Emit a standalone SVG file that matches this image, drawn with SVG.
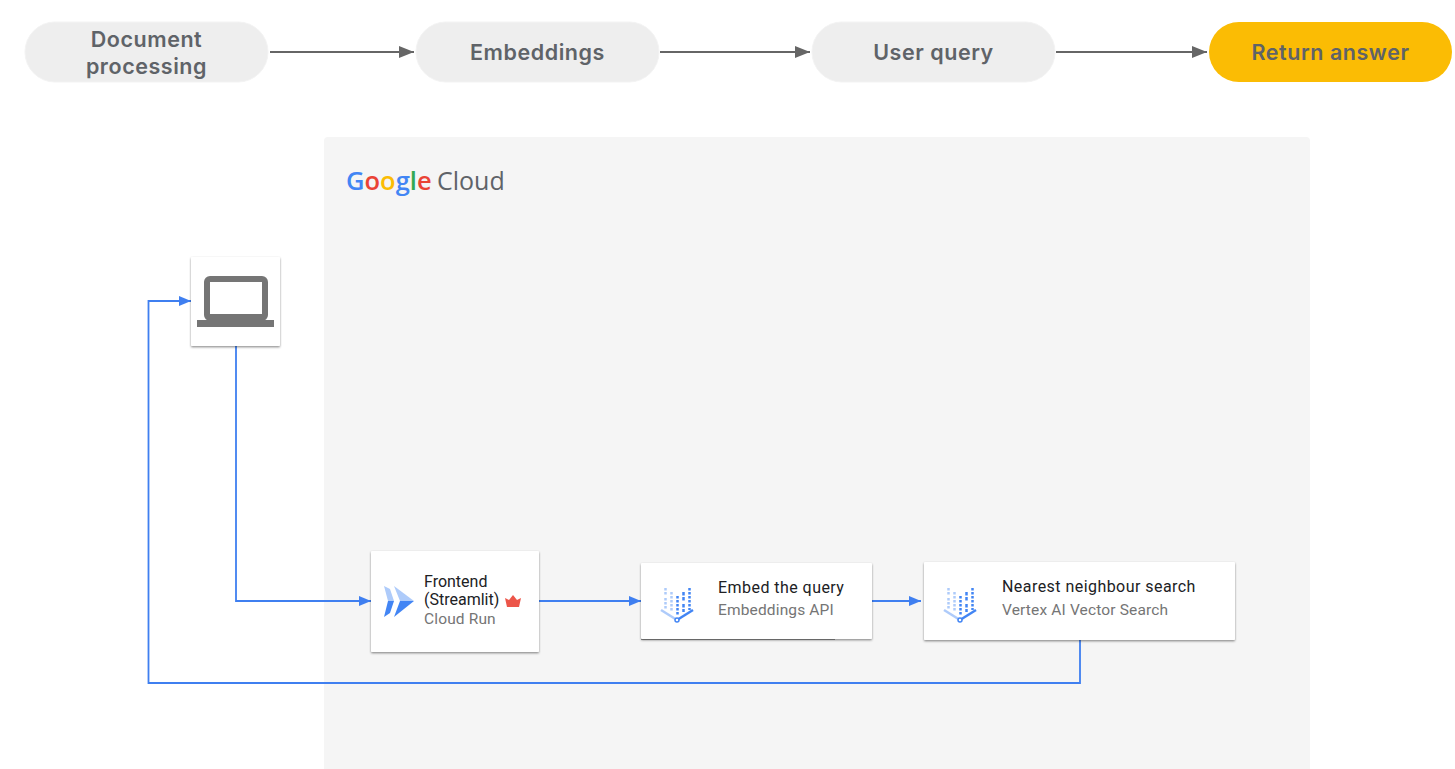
<svg xmlns="http://www.w3.org/2000/svg" width="1455" height="769" viewBox="0 0 1455 769">
<style>
.pill{fill:#eeeeee;stroke:#f3f3f3;stroke-width:1}
.pt{font-family:Inter,"Open Sans",sans-serif;font-weight:600;font-size:21.500px;letter-spacing:.55px;fill:#5f6368;text-anchor:middle}
.card{fill:#fff;filter:url(#sh)}
.t1{font-family:Roboto,"Liberation Sans",sans-serif;font-size:16px;letter-spacing:.45px;fill:#202124}
.t1n{letter-spacing:0}
.t2{font-family:Roboto,"Liberation Sans",sans-serif;font-size:15.500px;letter-spacing:.15px;fill:#757575}
.g{font-family:"Open Sans","Noto Sans",sans-serif;font-size:25.500px;font-weight:600}
.bl{fill:none;stroke:#3f7ff0;stroke-width:1.800}
.gr{fill:none;stroke:#666;stroke-width:1.800}
</style>
<defs>
<filter id="sh" x="-10%" y="-10%" width="120%" height="125%"><feDropShadow dx="0" dy="1.200" stdDeviation="1.200" flood-color="#000" flood-opacity="0.45"/></filter>
<marker id="ab" markerUnits="userSpaceOnUse" markerWidth="13" markerHeight="12" refX="12" refY="6" orient="auto"><path d="M0 1L12 6L0 11Z" fill="#3f7ff0"/></marker>
<marker id="ag" markerUnits="userSpaceOnUse" markerWidth="16" markerHeight="14" refX="15" refY="6" orient="auto"><path d="M0 0L15 6L0 12Z" fill="#666"/></marker>
<g id="emb" stroke-width="2.500" fill="none">
<path d="M1.500 0V8M1.500 10V22" stroke="#aecbfa" stroke-dasharray="2.500 1.500"/>
<path d="M7.500 4V24" stroke="#aecbfa" stroke-dasharray="2.500 1.500"/>
<path d="M13.500 8V28" stroke="#4285f4" stroke-dasharray="2.500 1.500"/>
<path d="M19.500 4V13M19.500 16V24" stroke="#4285f4" stroke-dasharray="3.500 1.500"/>
<path d="M25.500 0V22" stroke="#4285f4" stroke-dasharray="2.500 1.500"/>
<path d="M-3 22L13 32" stroke="#aecbfa"/>
<path d="M13 32L29 22" stroke="#4285f4"/>
<circle cx="13" cy="32" r="2" fill="#fff" stroke="#4285f4" stroke-width="1.500"/>
</g>
</defs>
<rect width="1455" height="769" fill="#fff"/>
<path id="panel" d="M324 141a4 4 0 0 1 4-4H1306a4 4 0 0 1 4 4V769H324Z" fill="#f5f5f5"/>
<text id="logo" class="g" x="346" y="190"><tspan fill="#4285f4">G</tspan><tspan fill="#ea4335">o</tspan><tspan fill="#fbbc04">o</tspan><tspan fill="#4285f4">g</tspan><tspan fill="#34a853">l</tspan><tspan fill="#ea4335">e</tspan><tspan fill="#5f6368" x="437" font-weight="400" font-size="25">Cloud</tspan></text>
<g id="connectors">
<path class="gr" d="M270 52H414" marker-end="url(#ag)"/>
<path class="gr" d="M660 52H810" marker-end="url(#ag)"/>
<path class="gr" d="M1056 52H1207" marker-end="url(#ag)"/>
<path class="bl" d="M236 346V601H371" marker-end="url(#ab)"/>
<path class="bl" d="M539 601H641" marker-end="url(#ab)"/>
<path class="bl" d="M872 601H921" marker-end="url(#ab)"/>
<path class="bl" d="M1080 640V683H148.500V301H191" marker-end="url(#ab)"/>
</g>
<g id="step-document"><rect class="pill" x="25" y="22" width="243" height="60" rx="30"/><text class="pt"><tspan x="146.500" y="47">Document</tspan><tspan x="146.500" y="74">processing</tspan></text></g>
<g id="step-embeddings"><rect class="pill" x="416" y="22" width="243" height="60" rx="30"/><text class="pt" x="537.500" y="60">Embeddings</text></g>
<g id="step-query"><rect class="pill" x="812" y="22" width="243" height="60" rx="30"/><text class="pt" x="933.500" y="60">User query</text></g>
<g id="step-answer"><rect x="1209" y="22" width="243" height="60" rx="30" fill="#fbbc04"/><text class="pt" x="1330.500" y="60">Return answer</text></g>
<g id="laptop"><rect class="card" x="191" y="257" width="89" height="89" rx="1"/>
<path d="M210 276H262a6 6 0 0 1 6 6V315a6 6 0 0 1-6 6H210a6 6 0 0 1-6-6V282a6 6 0 0 1 6-6ZM210 282V314H262V282Z" fill="#757575" fill-rule="evenodd"/>
<rect x="197" y="320" width="77" height="7" fill="#757575"/></g>
<g id="frontend"><rect class="card" x="371" y="551" width="168" height="101" rx="1"/>
<path d="M384 586L390 589L394 601H388Z" fill="#aecbfa"/><path d="M388 601H394L390 613L384 617Z" fill="#4285f4"/>
<path d="M394 586L414 601H400Z" fill="#aecbfa"/><path d="M400 601H414L394 617Z" fill="#4285f4"/>
<text class="t1 t1n" x="424" y="587">Frontend</text><text class="t1 t1n" x="424" y="605">(Streamlit)</text><text class="t2" x="424" y="624">Cloud Run</text>
<path d="M505 598L509 600L513 595L517 600L521 598L519 607H507Z" fill="#ea4335" opacity=".9"/></g>
<g id="embed"><rect x="641" y="637" width="194" height="3" fill="#999"/><rect class="card" x="641" y="563" width="231" height="76" rx="1"/>
<use href="#emb" x="664" y="588"/>
<text class="t1" x="718" y="593">Embed the query</text><text class="t2" x="718" y="615">Embeddings API</text></g>
<g id="search"><rect class="card" x="924" y="562" width="311" height="78" rx="1"/>
<use href="#emb" x="947" y="588"/>
<text class="t1" x="1002" y="592">Nearest neighbour search</text><text class="t2" x="1002" y="615">Vertex AI Vector Search</text></g>
</svg>
